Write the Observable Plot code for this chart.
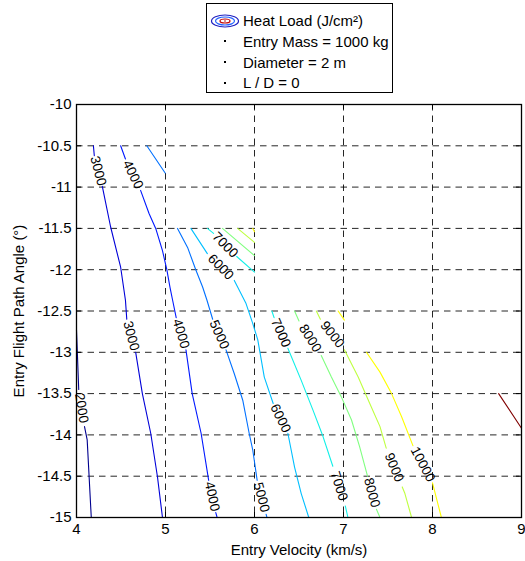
<!DOCTYPE html>
<html><head><meta charset="utf-8">
<script src="https://cdn.jsdelivr.net/npm/d3@7"></script>
<script src="https://cdn.jsdelivr.net/npm/@observablehq/plot@0.6"></script>
<style>
body{margin:0;background:#fff;font-family:"Liberation Sans",Arial,sans-serif;}
#wrap{position:relative;width:525px;}
#legend{position:relative;height:95px;}
.box{position:absolute;left:206px;top:3px;width:187px;height:90px;border:1px solid #000;background:#fff;box-sizing:border-box;}
.row{position:absolute;left:0;height:21px;display:flex;align-items:center;font-size:15px;color:#000;white-space:nowrap;}
.ic{width:36px;display:flex;justify-content:center;align-items:center;}
.dot{width:2px;height:2px;background:#000;}
</style></head><body>
<div id="wrap"><div id="legend"></div><div id="chart"></div></div>
<script>
// ---- data ----
const xTicks = [4, 5, 6, 7, 8, 9];
const yTicks = [-10, -10.5, -11, -11.5, -12, -12.5, -13, -13.5, -14, -14.5, -15];
const xLabel = "Entry Velocity (km/s)";
const yLabel = "Entry Flight Path Angle (°)";
const legendTitle = "Heat Load (J/cm²)";
const legendNotes = ["Entry Mass = 1000 kg", "Diameter = 2 m", "L / D = 0"];
const levels = [2000, 3000, 4000, 5000, 6000, 7000, 8000, 9000, 10000, 16000];
const unlabeled = [16000];

// contour polylines [velocity, angle]; null = break where the level label sits
const c2000 = [[4.0,-12.73],[4.025,-13.45],null,[4.09,-13.9],[4.12,-14.06],[4.166,-15.0]];
const c3000 = [[4.19,-10.5],[4.20,-10.62],null,[4.29,-10.99],[4.383,-11.48],[4.496,-11.97],[4.55,-12.37],[4.565,-12.6],null,[4.665,-13.0],[4.74,-13.5],[4.834,-13.98],[4.91,-14.51],[4.966,-15.0]];
const c4000 = [[4.496,-10.5],[4.55,-10.66],null,[4.72,-11.04],[4.815,-11.32],[4.89,-11.5],[4.966,-11.77],[5.015,-12.0],[5.05,-12.21],[5.08,-12.37],[5.12,-12.58],null,[5.23,-12.97],[5.30,-13.5],[5.40,-13.98],[5.485,-14.55],null,[5.565,-14.94],[5.58,-15.0]];
const c5000a = [[4.79,-10.5],[4.996,-10.83]];
const c5000b = [[5.135,-11.5],[5.248,-11.73],[5.34,-12.0],[5.417,-12.21],[5.466,-12.37],[5.53,-12.6],null,[5.68,-12.97],[5.773,-13.26],[5.868,-13.58],[5.94,-13.98],[5.98,-14.18],[6.03,-14.55],null,[6.13,-14.96],[6.14,-15.0]];
const c6000 = [[5.285,-11.5],[5.47,-11.805],null,[5.773,-12.13],[5.905,-12.41],[5.98,-12.65],[6.037,-12.85],[6.11,-13.30],[6.21,-13.62],null,[6.375,-13.98],[6.45,-14.39],[6.525,-14.71],[6.61,-15.0]];
const c7000a = [[5.47,-11.5],[5.54,-11.56],null,[5.80,-11.84],[6.0,-12.03]];
const c7000b = [[6.195,-12.5],[6.22,-12.58],null,[6.375,-12.95],[6.525,-13.34],[6.657,-13.70],[6.77,-14.02],[6.88,-14.38],null,[7.02,-14.86],[7.05,-15.0]];
const c8000a = [[5.64,-11.5],[6.0,-11.83]];
const c8000b = [[6.45,-12.5],[6.50,-12.62],null,[6.75,-13.04],[6.864,-13.30],[6.976,-13.54],[7.09,-13.82],[7.18,-14.14],[7.27,-14.50],null,[7.37,-14.90],[7.41,-15.0]];
const c9000a = [[5.81,-11.5],[6.0,-11.67]];
const c9000b = [[6.695,-12.5],[6.74,-12.6],null,[7.01,-12.97],[7.165,-13.30],[7.295,-13.62],[7.41,-13.90],[7.48,-14.16],null,[7.66,-14.63],[7.69,-14.71],[7.765,-15.0]];
const c10000a = [[5.98,-11.5],[6.0,-11.54]];
const c10000b = [[6.94,-12.5],[7.01,-12.61]];
const c10000c = [[7.258,-13.0],[7.41,-13.24],[7.54,-13.50],[7.653,-13.78],[7.78,-14.13],null,[8.0,-14.58],[8.10,-15.0]];
const c16000 = [[8.743,-13.5],[9.0,-13.92]];

const contours = [
  {level: 2000, paths: [c2000]},
  {level: 3000, paths: [c3000]},
  {level: 4000, paths: [c4000]},
  {level: 5000, paths: [c5000a, c5000b]},
  {level: 6000, paths: [c6000]},
  {level: 7000, paths: [c7000a, c7000b]},
  {level: 8000, paths: [c8000a, c8000b]},
  {level: 9000, paths: [c9000a, c9000b]},
  {level: 10000, paths: [c10000a, c10000b, c10000c]},
  {level: 16000, paths: [c16000]}
];

// ---- style ----
const levelColors = ["#00008F","#0000D8","#0018FF","#0070FF","#00BFFF","#10F0E8","#80FF80","#BFFF40","#FFFF00","#800000"];
const W = 525, H = 466, mt = 9, mb = 44, ml = 76, mr = 4;
const kx = (W - ml - mr) / (xTicks[xTicks.length-1] - xTicks[0]);
const ky = (H - mt - mb) / (yTicks[0] - yTicks[yTicks.length-1]);

// ---- build tables ----
const rows = [], labels = [];
let segId = 0;
for (const {level, paths} of contours) {
  for (const path of paths) {
    const id = segId++;
    path.forEach((p, i) => {
      if (p) { rows.push({level, seg: id, v: p[0], g: p[1]}); return; }
      rows.push({level, seg: id, v: NaN, g: NaN});
      const a = path[i-1], b = path[i+1];
      let ang = Math.atan2(-(b[1]-a[1])*ky, (b[0]-a[0])*kx) * 180 / Math.PI;
      if (ang > 90) ang -= 180; if (ang < -90) ang += 180;
      labels.push({level, v: (a[0]+b[0])/2, g: (a[1]+b[1])/2, angle: ang});
    });
  }
}

// ---- legend ----
const legend = document.getElementById("legend");
const box = document.createElement("div"); box.className = "box"; legend.appendChild(box);
const entries = [{text: legendTitle, icon: "contour"}, ...legendNotes.map(t => ({text: t, icon: "dot"}))];
entries.forEach((e, i) => {
  const r = document.createElement("div"); r.className = "row"; r.style.top = (6 + i*20.8) + "px";
  const ic = document.createElement("div"); ic.className = "ic";
  if (e.icon === "contour") {
    ic.innerHTML = '<svg width="30" height="14" viewBox="0 0 30 14"><ellipse cx="15" cy="7" rx="13.5" ry="6" fill="none" stroke="#2020C0" stroke-width="1.2"/><ellipse cx="15" cy="7" rx="9.5" ry="4" fill="none" stroke="#2060FF" stroke-width="1.2"/><ellipse cx="15" cy="7" rx="5" ry="2" fill="none" stroke="#C00000" stroke-width="1.2"/><circle cx="15" cy="7" r="0.8" fill="#C00000"/></svg>';
  } else { const d = document.createElement("div"); d.className = "dot"; ic.appendChild(d); }
  const t = document.createElement("span"); t.textContent = e.text;
  r.appendChild(ic); r.appendChild(t); box.appendChild(r);
});

// ---- chart ----
const dash = {stroke: "#000", strokeDasharray: "6.5,5", strokeWidth: 1, strokeOpacity: 0.85};
const plot = Plot.plot({
  width: W, height: H, marginTop: mt, marginBottom: mb, marginLeft: ml, marginRight: mr,
  style: {fontFamily: "'Liberation Sans', Arial, sans-serif", fontSize: "15px", color: "#000", background: "#fff"},
  x: {domain: [xTicks[0], xTicks[xTicks.length-1]]},
  y: {domain: [yTicks[yTicks.length-1], yTicks[0]]},
  color: {type: "ordinal", domain: levels, range: levelColors},
  marks: [
    Plot.ruleX(xTicks.slice(1, -1), dash),
    Plot.ruleY(yTicks.slice(1, -1), dash),
    Plot.line(rows, {x: "v", y: "g", z: "seg", stroke: "level", strokeWidth: 1.1}),
    Plot.text(labels.filter(d => !unlabeled.includes(d.level)), {x: "v", y: "g", text: d => String(d.level), rotate: "angle", fontSize: 13.5, fill: "#000"}),
    Plot.ruleX(xTicks, {stroke: "#000", insetTop: H - mt - mb - 5}),
    Plot.ruleX(xTicks, {stroke: "#000", insetBottom: H - mt - mb - 5}),
    Plot.ruleY(yTicks, {stroke: "#000", insetRight: W - ml - mr - 5}),
    Plot.ruleY(yTicks, {stroke: "#000", insetLeft: W - ml - mr - 5}),
    Plot.frame({stroke: "#000", strokeWidth: 1.3}),
    Plot.axisX(xTicks, {tickSize: 0, tickPadding: 6, fontSize: 15, tickFormat: d => String(d), label: null}),
    Plot.axisY(yTicks, {tickSize: 0, tickPadding: 5, fontSize: 15, tickFormat: d => String(d), label: null}),
    Plot.text([xLabel], {frameAnchor: "bottom", dy: 37, fontSize: 15, fill: "#000", textAnchor: "middle"}),
    Plot.text([yLabel], {frameAnchor: "left", dx: -57, rotate: -90, fontSize: 15, fill: "#000", textAnchor: "middle"})
  ]
});
document.getElementById("chart").appendChild(plot);
</script></body></html>
